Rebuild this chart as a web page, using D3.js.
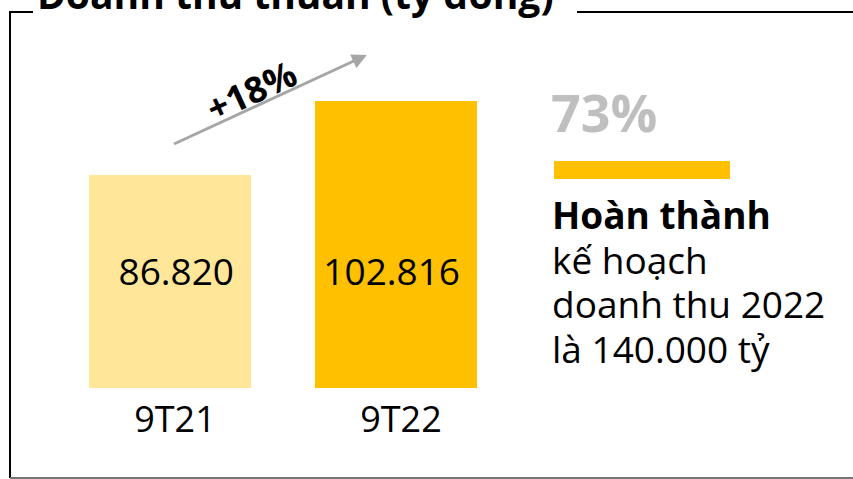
<!DOCTYPE html>
<html>
<head>
<meta charset="utf-8">
<script src="https://cdn.jsdelivr.net/npm/d3@7"></script>
<style>
  html, body { margin: 0; padding: 0; background: #ffffff; }
  svg { display: block; font-family: 'Open Sans', 'Noto Sans', sans-serif; }
</style>
</head>
<body>
<div id="chart"></div>
<script>
const categories = ['9T21', '9T22'];
const revenue = [86.820, 102.816];
const valueLabels = ['86.820', '102.816'];
const growthLabel = '+18%';
const planShare = '73%';
const planLines = ['Hoàn thành', 'kế hoạch', 'doanh thu 2022', 'là 140.000 tỷ'];
const title = 'Doanh thu thuần (tỷ đồng)';

const BAR_FILLS = ['#FFE699', '#FFC000'];
const ARROW_COLOR = '#A6A6A6';

const width = 853;
const height = 479;

const svg = d3.select('#chart')
    .append('svg')
    .attr('width', width)
    .attr('height', height);

// frame: left + bottom lines, top line broken by the title
svg.append('path')
    .attr('d', 'M33,12 H10 V478')
    .attr('fill', 'none')
    .attr('stroke', '#000')
    .attr('stroke-width', 2);
svg.append('line')
    .attr('x1', 577).attr('x2', width)
    .attr('y1', 12).attr('y2', 12)
    .attr('stroke', '#000')
    .attr('stroke-width', 2);
svg.append('line')
    .attr('x1', 10).attr('x2', width)
    .attr('y1', 478).attr('y2', 478)
    .attr('stroke', '#767676')
    .attr('stroke-width', 2);

svg.append('text')
    .attr('x', 37)
    .attr('y', 9)
    .attr('font-size', 39)
    .attr('font-weight', 700)
    .attr('fill', '#000')
    .text(title);

// bars
const x = d3.scaleBand()
    .domain(categories)
    .range([89, 477])
    .paddingInner(0.2832)
    .paddingOuter(0);

// the original axis does not start at zero
const y = d3.scaleLinear()
    .domain([40.77, 102.816])
    .range([388, 101]);

const rows = categories.map((c, i) => ({ cat: c, value: revenue[i], label: valueLabels[i], fill: BAR_FILLS[i] }));

svg.selectAll('rect.bar')
    .data(rows)
    .join('rect')
    .attr('class', 'bar')
    .attr('x', (d) => x(d.cat))
    .attr('y', (d) => y(d.value))
    .attr('width', x.bandwidth())
    .attr('height', (d) => y.range()[0] - y(d.value))
    .attr('fill', (d) => d.fill);

svg.selectAll('text.value')
    .data(rows)
    .join('text')
    .attr('class', 'value')
    .attr('x', (d) => x(d.cat) + x.bandwidth() - 17)
    .attr('y', 285)
    .attr('text-anchor', 'end')
    .attr('font-size', 37)
    .attr('fill', '#000')
    .text((d) => d.label);

svg.selectAll('text.cat')
    .data(rows)
    .join('text')
    .attr('class', 'cat')
    .attr('x', (d) => x(d.cat) + x.bandwidth() / 2 + 5)
    .attr('y', 432)
    .attr('text-anchor', 'middle')
    .attr('font-size', 36)
    .attr('fill', '#000')
    .text((d) => d.cat);

// growth arrow
const defs = svg.append('defs');
defs.append('marker')
    .attr('id', 'arrowhead')
    .attr('viewBox', '0 0 10 10')
    .attr('refX', 2)
    .attr('refY', 5)
    .attr('markerWidth', 6)
    .attr('markerHeight', 5)
    .attr('orient', 'auto')
    .append('path')
    .attr('d', 'M0,0 L10,5 L0,10 Z')
    .attr('fill', ARROW_COLOR);

const a0 = [174, 144];
const a1 = [356, 60];
svg.append('line')
    .attr('x1', a0[0]).attr('y1', a0[1])
    .attr('x2', a1[0]).attr('y2', a1[1])
    .attr('stroke', ARROW_COLOR)
    .attr('stroke-width', 3)
    .attr('marker-end', 'url(#arrowhead)');

const angle = Math.atan2(a1[1] - a0[1], a1[0] - a0[0]) * 180 / Math.PI;
svg.append('text')
    .attr('transform', `translate(257,103) rotate(${angle})`)
    .attr('text-anchor', 'middle')
    .attr('font-size', 36)
    .attr('font-weight', 700)
    .attr('fill', '#000')
    .text(growthLabel);

// plan completion block
svg.append('text')
    .attr('x', 551)
    .attr('y', 132)
    .attr('font-size', 52)
    .attr('font-weight', 700)
    .attr('fill', '#BFBFBF')
    .text(planShare);

svg.append('rect')
    .attr('x', 554)
    .attr('y', 161)
    .attr('width', 176)
    .attr('height', 18)
    .attr('fill', '#FFC000');

svg.selectAll('text.plan')
    .data(planLines)
    .join('text')
    .attr('class', 'plan')
    .attr('x', 552)
    .attr('y', (d, i) => 229 + i * 44.7)
    .attr('font-size', 37)
    .attr('font-weight', (d, i) => (i === 0 ? 700 : 400))
    .attr('fill', '#000')
    .text((d) => d);
</script>
</body>
</html>
